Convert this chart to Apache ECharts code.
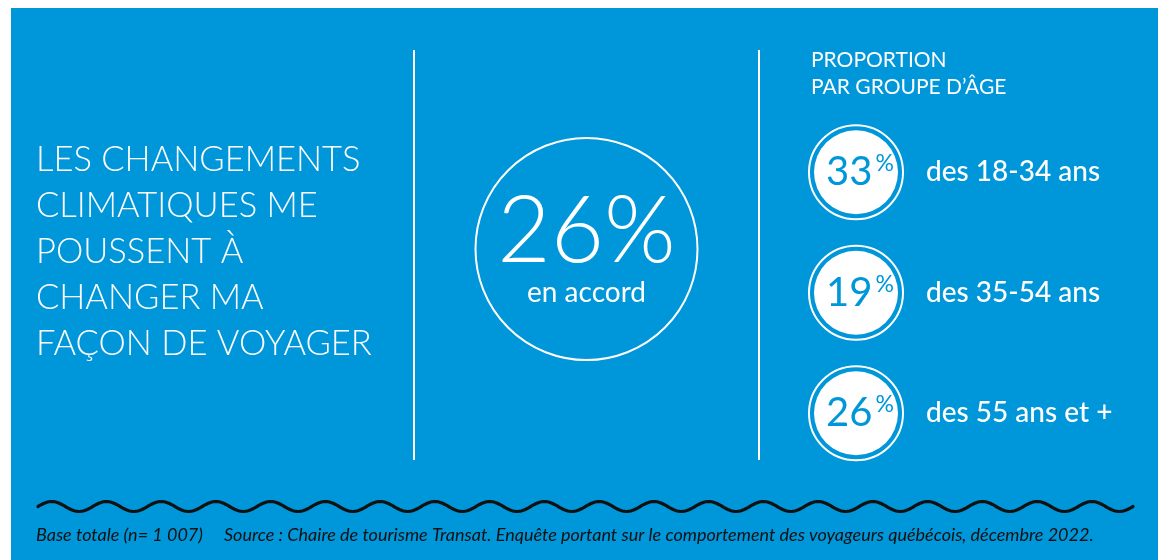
<!DOCTYPE html>
<html>
<head>
<meta charset="utf-8">
<script src="https://cdn.jsdelivr.net/npm/echarts@6/dist/echarts.min.js"></script>
<style>
html,body{margin:0;padding:0;background:#fff;}
#c{width:1158px;height:560px;}
</style>
</head>
<body>
<div id="c"></div>
<script>
// ---- data ----
const headline = ['LES CHANGEMENTS', 'CLIMATIQUES ME', 'POUSSENT À', 'CHANGER MA', 'FAÇON DE VOYAGER'];
const totalPct = [26];
const totalLabel = ['en accord'];
const sectionTitle = ['PROPORTION', 'PAR GROUPE D’ÂGE'];
const ageGroups = ['des 18-34 ans', 'des 35-54 ans', 'des 55 ans et +'];
const agePct = [33, 19, 26];
const footnote = 'Base totale (n= 1 007)     Source : Chaire de tourisme Transat. Enquête portant sur le comportement des voyageurs québécois, décembre 2022.';

const BLUE = '#0096da';
const FONT = 'Lato, "Noto Sans", sans-serif';

// decorative wave (not data)
const waveStart = 38, waveEnd = 1133, waveMid = 506.5, waveAmp = 5, wavePeriods = 20;
const wavePts = [];
for (let i = 0; i <= 800; i++) {
  const x = waveStart + (waveEnd - waveStart) * i / 800;
  const t = (x - waveStart) / ((waveEnd - waveStart) / wavePeriods);
  wavePts.push([x, waveMid - waveAmp * Math.sin(2 * Math.PI * t)]);
}

const chart = echarts.init(document.getElementById('c'), null, {renderer: 'canvas'});
chart.setOption({
  animation: false,
  backgroundColor: '#fff',
  graphic: [
    {type: 'rect', z: -10, shape: {x: 11, y: 8, width: 1147, height: 552}, style: {fill: BLUE}},
    {type: 'line', shape: {x1: 414, y1: 50, x2: 414, y2: 460}, style: {stroke: '#fff', lineWidth: 2}},
    {type: 'line', shape: {x1: 759, y1: 50, x2: 759, y2: 460}, style: {stroke: '#fff', lineWidth: 2}},
    {type: 'polyline', shape: {points: wavePts}, style: {stroke: '#111', lineWidth: 3.2, fill: null, lineCap: 'round'}}
  ],
  title: [
    {text: headline.join('\n'), left: 36, top: 137, padding: 0,
     textStyle: {color: '#fff', fontFamily: FONT, fontWeight: 300, fontSize: 34.5, lineHeight: 46}},
    {text: sectionTitle.join('\n'), left: 811, top: 47, padding: 0,
     textStyle: {color: '#fff', fontFamily: FONT, fontWeight: 400, fontSize: 21, lineHeight: 27}},
    {text: footnote, left: 36, top: 525, padding: 0,
     textStyle: {color: '#111', fontFamily: FONT, fontStyle: 'italic', fontWeight: 400, fontSize: 18, lineHeight: 20}}
  ],
  grid: [
    {left: 414, width: 345, top: 138, height: 222},
    {left: 810, width: 92, top: 112, height: 361.5}
  ],
  xAxis: [
    {gridIndex: 0, type: 'category', data: [''], show: false},
    {gridIndex: 1, type: 'category', data: [''], show: false}
  ],
  yAxis: [
    {gridIndex: 0, type: 'category', data: ['total'], show: false},
    {gridIndex: 1, type: 'category', data: ageGroups, inverse: true, show: false}
  ],
  series: [
    {
      type: 'scatter', xAxisIndex: 0, yAxisIndex: 0, symbol: 'circle', symbolSize: 222,
      data: totalPct.map((v, i) => ({value: ['', 'total'], pct: v, lbl: totalLabel[i]})),
      itemStyle: {color: 'rgba(0,0,0,0)', borderColor: '#fff', borderWidth: 2, opacity: 1},
      label: {
        show: true, position: 'inside',
        formatter: p => '{a|' + p.data.pct + '%}\n{b|' + p.data.lbl + '}',
        rich: {
          a: {color: '#fff', fontFamily: FONT, fontWeight: 300, fontSize: 92, lineHeight: 88, align: 'center'},
          b: {color: '#fff', fontFamily: FONT, fontWeight: 400, fontSize: 28, lineHeight: 34, align: 'center'}
        }
      },
      emphasis: {disabled: true}
    },
    {
      type: 'scatter', xAxisIndex: 1, yAxisIndex: 1, symbol: 'circle', symbolSize: 94,
      data: ageGroups.map(g => ['', g]),
      itemStyle: {color: 'rgba(0,0,0,0)', borderColor: '#fff', borderWidth: 2, opacity: 1},
      label: {
        show: true, position: 'right', distance: 22,
        formatter: p => p.value[1],
        color: '#fff', fontFamily: FONT, fontWeight: 500, fontSize: 28
      },
      emphasis: {disabled: true}
    },
    {
      type: 'scatter', xAxisIndex: 1, yAxisIndex: 1, symbol: 'circle', symbolSize: 84,
      data: ageGroups.map((g, i) => ({value: ['', g], pct: agePct[i]})),
      itemStyle: {color: '#fff', opacity: 1},
      label: {
        show: true, position: 'inside', offset: [4, 0],
        formatter: p => '{n|' + p.data.pct + '}{p|%}',
        rich: {
          n: {color: BLUE, fontFamily: FONT, fontWeight: 400, fontSize: 40, lineHeight: 40},
          p: {color: BLUE, fontFamily: FONT, fontWeight: 400, fontSize: 23, lineHeight: 40, verticalAlign: 'top', padding: [0, 0, 0, 3]}
        }
      },
      emphasis: {disabled: true}
    }
  ]
});
</script>
</body>
</html>
